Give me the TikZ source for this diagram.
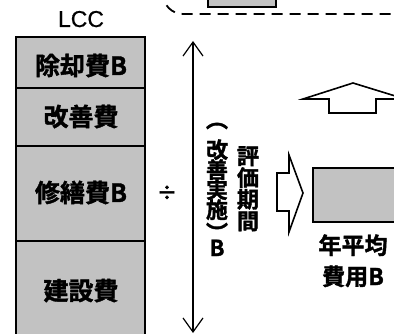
\documentclass[tikz,border=0pt]{standalone}
\usepackage{fontspec}
\setmainfont{Noto Sans CJK JP}[BoldFont={Noto Sans CJK JP Bold},BoldFeatures={FakeBold=1.6}]
\newfontfamily\lat{Liberation Sans}[FakeBold=0.6]
\usetikzlibrary{arrows.meta}
\definecolor{stip}{gray}{0.76}
\tikzset{
  graybox/.style={draw=black,line width=1.8pt,fill=stip},
  divider/.style={line width=1.8pt},
  lbl/.style={inner sep=0pt,anchor=base,font=\bfseries\fontsize{25}{25}\selectfont},
  vch/.style={inner sep=0pt,anchor=base,font=\bfseries\fontsize{22}{22}\selectfont},
  vpar/.style={inner sep=0pt,anchor=center,font=\bfseries\fontsize{22}{22}\selectfont},
  rlbl/.style={inner sep=0pt,anchor=base,font=\bfseries\fontsize{23}{23}\selectfont},
  blockarrow/.style={draw=black,line width=1.6pt,fill=white,line join=miter},
  period/.style={line width=1.2pt,{Straight Barb[length=14pt,width=20pt]}-{Straight Barb[length=14pt,width=20pt]}},
  dashedframe/.style={line width=1.8pt,dash pattern=on 11pt off 7pt,rounded corners=20pt}
}
\begin{document}
\begin{tikzpicture}[x=1pt,y=-1pt]
\useasboundingbox (0,0) rectangle (394,334);
% top small box and dashed frame
\draw[graybox] (208,-20) rectangle (276,7);
\draw[dashedframe] (163,-30) -- (163,14) -- (410,14);
% LCC stack
\node[inner sep=0pt,anchor=base,font=\lat\fontsize{23}{23}\selectfont] (lcc) at (81,27) {LCC};
\draw[graybox] (16,37) rectangle (145,345);
\coordinate (d1l) at (16,88);  \coordinate (d1r) at (145,88);
\coordinate (d2l) at (16,146); \coordinate (d2r) at (145,146);
\coordinate (d3l) at (16,241); \coordinate (d3r) at (145,241);
\draw[divider] (d1l) -- (d1r);
\draw[divider] (d2l) -- (d2r);
\draw[divider] (d3l) -- (d3r);
\node[lbl] (jokyaku) at (81,75) {除却費B};
\node[lbl] (kaizen) at (81,126) {改善費};
\node[lbl] (shuzen) at (81,202) {修繕費B};
\node[lbl] (kensetsu) at (81,300) {建設費};
\node[inner sep=0pt,anchor=base,font=\bfseries\fontsize{20}{20}\selectfont] (div) at (167,200) {÷};
% period arrow
\coordinate (ptop) at (193,41);
\coordinate (pbot) at (193,333);
\draw[period] (ptop) -- (pbot);
\node[vpar] (a1) at (217,126) {︵};
\foreach \c [count=\i from 2] in {改,善,実,施}
  \node[vch] (a\i) at (217,{118+20*\i}) {\c};
\node[vpar] (a6) at (217,232) {︶};
\node[vch] (a7) at (217,256) {B};
\foreach \c [count=\i] in {評,価,期,間}
  \node[vch] (b\i) at (248,{142.5+21.7*\i}) {\c};
% right block arrow
\draw[blockarrow] (277,173) -- (289,173) -- (289,155) -- (303,193) -- (289,232) -- (289,211) -- (277,211) -- cycle;
% up block arrow
\draw[blockarrow] (353,83) -- (405,99) -- (376,99) -- (376,113) -- (329,113) -- (329,99) -- (303,99) -- cycle;
% result box
\draw[graybox] (313,168) rectangle (410,222);
\node[rlbl] (nen) at (353,254) {年平均};
\node[rlbl] (hiyo) at (353,285) {費用B};
\end{tikzpicture}
\end{document}
